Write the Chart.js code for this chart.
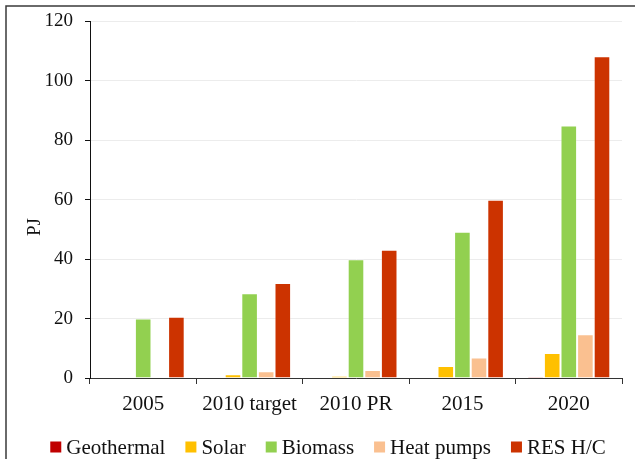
<!DOCTYPE html>
<html>
<head>
<meta charset="utf-8">
<script src="https://cdn.jsdelivr.net/npm/chart.js@4"></script>
<style>
  html, body { margin: 0; padding: 0; background: #fff; }
  #wrap { width: 635px; height: 459px; position: relative; }
</style>
</head>
<body>
<div id="wrap"><canvas id="c"></canvas></div>
<script>
// Renewable heating and cooling, PJ
const categories = ['2005', '2010 target', '2010 PR', '2015', '2020'];
const geothermal = [0.1, 0.1, 0.1, 0.2, 0.3];
const solar      = [0, 1.3, 0.7, 4.0, 8.4];
const biomass    = [20, 28.5, 40, 49.2, 85];
const heatPumps  = [0, 2.3, 2.7, 6.9, 14.7];
const resHC      = [20.6, 32, 43.2, 60, 108.3];
const yTicks     = [0, 20, 40, 60, 80, 100, 120];

const serif = "'Liberation Serif', 'DejaVu Serif', serif";
const textColor = '#111';

// Thin frame around the figure (left and top edges)
const framePlugin = {
  id: 'frame',
  beforeDraw(chart) {
    const ctx = chart.ctx;
    ctx.save();
    ctx.strokeStyle = '#3a3a3a';
    ctx.lineWidth = 1.5;
    ctx.beginPath();
    ctx.moveTo(6, 470);
    ctx.lineTo(6, 6);
    ctx.lineTo(650, 6);
    ctx.stroke();
    ctx.restore();
  }
};

// Axis title and a compact bottom legend
const annotatePlugin = {
  id: 'annotate',
  afterDraw(chart) {
    const ctx = chart.ctx;
    ctx.save();
    ctx.fillStyle = textColor;

    // "PJ" axis title, rotated
    ctx.font = `19px ${serif}`;
    ctx.translate(35, 227);
    ctx.rotate(-Math.PI / 2);
    ctx.textAlign = 'center';
    ctx.textBaseline = 'middle';
    ctx.fillText('PJ', 0, 0);
    ctx.setTransform(1, 0, 0, 1, 0, 0);

    // Legend row
    const box = 11, gap = 5, spacing = 20, y = 447, centerX = 328;
    ctx.font = `21px ${serif}`;
    ctx.textAlign = 'left';
    const items = chart.data.datasets.map(d => ({
      text: d.label, color: d.backgroundColor, w: ctx.measureText(d.label).width
    }));
    const total = items.reduce((s, it) => s + box + gap + it.w, 0) + spacing * (items.length - 1);
    let x = centerX - total / 2;
    items.forEach(it => {
      ctx.fillStyle = it.color;
      ctx.fillRect(x, y - box / 2, box, box);
      ctx.fillStyle = textColor;
      ctx.fillText(it.text, x + box + gap, y + 1);
      x += box + gap + it.w + spacing;
    });
    ctx.restore();
  }
};

function ds(label, data, color) {
  return {
    label, data,
    backgroundColor: color,
    borderColor: 'rgba(255,255,255,0.25)',
    borderWidth: 1,
    categoryPercentage: 0.78,
    barPercentage: 1.0
  };
}

new Chart(document.getElementById('c'), {
  type: 'bar',
  data: {
    labels: categories,
    datasets: [
      ds('Geothermal', geothermal, '#C00000'),
      ds('Solar', solar, '#FFC000'),
      ds('Biomass', biomass, '#92D050'),
      ds('Heat pumps', heatPumps, '#FAC090'),
      ds('RES H/C', resHC, '#CC3300')
    ]
  },
  options: {
    responsive: true,
    maintainAspectRatio: false,
    animation: false,
    layout: { padding: { left: 0, top: 19, right: 13, bottom: 41 } },
    plugins: {
      tooltip: { enabled: false },
      legend: { display: false }
    },
    scales: {
      x: {
        afterFit(scale) { scale.height = 40; },
        grid: {
          offset: true,
          drawOnChartArea: false,
          drawTicks: true,
          tickLength: 6,
          tickColor: '#333'
        },
        border: { display: true, color: '#333', width: 1 },
        ticks: {
          color: textColor,
          padding: 8,
          font: { family: serif, size: 21 },
          maxRotation: 0
        }
      },
      y: {
        min: 0,
        max: 120,
        afterFit(scale) { scale.width = 90; },
        afterBuildTicks(scale) {
          scale.ticks = yTicks.map(v => ({ value: v }));
        },
        grid: {
          color: '#ececec',
          lineWidth: 1,
          drawTicks: true,
          tickLength: 5,
          tickColor: '#111'
        },
        border: { display: true, color: '#111', width: 1 },
        ticks: {
          color: textColor,
          padding: 12,
          font: { family: serif, size: 19, lineHeight: 1 }
        }
      }
    }
  },
  plugins: [framePlugin, annotatePlugin]
});
</script>
</body>
</html>
